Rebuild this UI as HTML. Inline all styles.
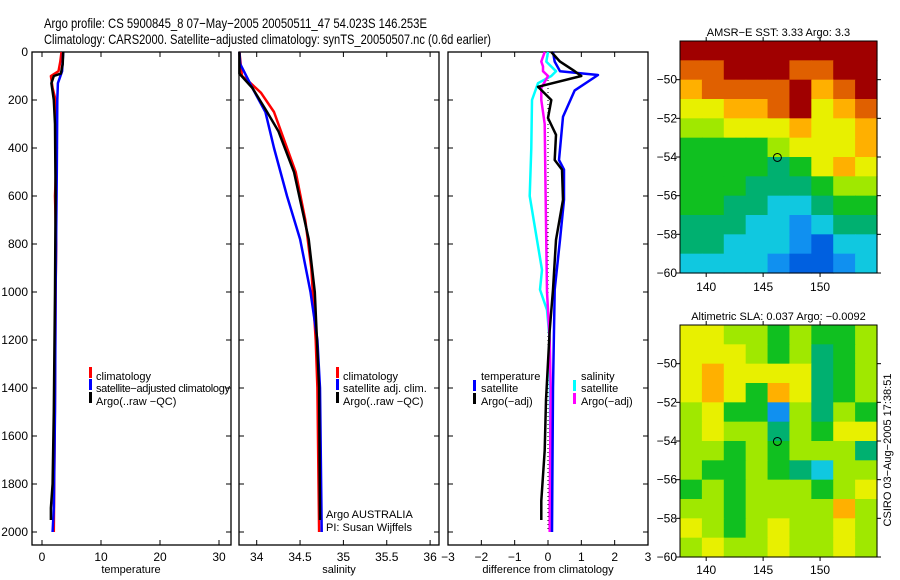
<!DOCTYPE html>
<html><head><meta charset="utf-8">
<style>
html,body{margin:0;padding:0;background:#fff;}
svg{display:block;font-family:"Liberation Sans",sans-serif;}
</style></head>
<body>
<svg id="fig" width="900" height="580" viewBox="0 0 900 580" xmlns="http://www.w3.org/2000/svg">
<text x="44" y="28" font-size="14" textLength="383" lengthAdjust="spacingAndGlyphs">Argo profile: CS 5900845_8 07−May−2005 20050511_47 54.023S 146.253E</text>
<text x="44" y="44" font-size="14" textLength="447" lengthAdjust="spacingAndGlyphs">Climatology: CARS2000. Satellite−adjusted climatology: synTS_20050507.nc (0.6d earlier)</text>
</svg>
<script>
// ---------- data ----------
const depthTicks = [0,200,400,600,800,1000,1200,1400,1600,1800,2000];
const tempTicks = [0,10,20,30];
const salTicks = [34,34.5,35,35.5,36];
const salTickLabels = ["34","34.5","35","35.5","36"];
const diffTicks = [-3,-2,-1,0,1,2,3];

const tClimD = [0,40,80,100,150,200,400,600,800,1000,1400,2000];
const tClimV = [3.3,3.1,2.8,1.5,1.8,2.3,2.5,2.2,2.4,2.3,2.2,2.0];
const tArgoD = [0,50,90,100,130,200,300,600,1000,1500,1800,1900,1950];
const tArgoV = [3.6,3.5,3.2,2.0,1.6,2.0,2.2,2.3,2.2,2.0,1.8,1.5,1.5];
const tSatD = [0,80,130,200,500,1000,1500,1900,2000];
const tSatV = [3.6,3.4,2.7,2.6,2.5,2.3,2.2,2.0,1.8];

const sClimD = [0,100,120,170,250,350,500,700,900,1200,1400,2000];
const sClimV = [33.8,33.83,33.9,34.05,34.2,34.3,34.45,34.56,34.63,34.68,34.7,34.72];
const sArgoD = [0,90,150,250,330,500,780,1000,1400,1950];
const sArgoV = [33.8,33.8,33.95,34.12,34.25,34.43,34.6,34.67,34.72,34.73];
const sSatD = [0,50,150,250,400,600,780,1000,1200,1400,2000];
const sSatV = [33.8,33.81,33.95,34.1,34.2,34.35,34.5,34.62,34.7,34.73,34.75];

const dTSatD = [0,40,80,96,160,270,450,490,616,783,990,1400,2000];
const dTSatV = [0.15,0.2,0.36,1.5,0.8,0.45,0.33,0.48,0.48,0.36,0.2,0.15,0.12];
const dTArgoD = [0,40,80,100,145,200,275,345,450,490,616,783,990,1160,1450,1660,1870,1950];
const dTArgoV = [0.1,0.36,0.8,1.0,-0.3,0.1,0.0,0.24,0.2,0.42,0.45,0.24,0.15,0.05,-0.06,-0.1,-0.2,-0.2];
const dSSatD = [0,40,80,100,130,200,400,600,783,908,990,1075,1200,2000];
const dSSatV = [0.0,-0.05,0.24,0.1,-0.3,-0.48,-0.5,-0.55,-0.33,-0.18,-0.24,-0.03,0.05,0.08];
const dSArgoD = [0,40,60,80,100,150,200,300,500,800,1000,1200,1400,1900,2000];
const dSArgoV = [-0.1,-0.2,-0.15,-0.15,0.0,-0.2,-0.2,-0.1,-0.08,-0.05,-0.03,0.05,0.08,0.05,0.05];

const lonTicks = [140,145,150];
const latTicks = [-50,-52,-54,-56,-58,-60];
const sstGrid = [
[10,10,10,10,10,10,10,10,10],
[9,9,10,10,10,9,9,10,10],
[8,9,9,9,9,10,8,9,10],
[7,7,8,8,9,10,7,8,9],
[6,6,7,7,7,8,7,7,8],
[5,5,5,5,6,7,7,7,8],
[5,5,5,5,4,5,7,8,7],
[5,5,5,4,4,4,5,6,6],
[5,5,4,4,3,3,4,5,5],
[4,4,4,3,3,2,3,4,4],
[4,4,3,3,3,2,1,3,3],
[3,3,3,3,2,1,1,2,3]];
const slaGrid = [
[7,7,6,6,5,6,5,5,6],
[7,7,7,6,5,6,4,5,6],
[7,8,7,7,7,7,4,5,6],
[7,8,7,5,8,7,4,5,6],
[6,7,5,5,2,6,4,6,5],
[6,7,6,6,4,6,5,7,7],
[6,6,5,6,5,6,6,6,4],
[6,5,5,6,5,4,3,6,6],
[5,6,5,6,6,6,5,6,7],
[6,6,5,6,6,6,6,8,6],
[7,6,5,6,7,6,6,7,6],
[6,7,6,6,7,6,6,7,6]];
const argoLon = 146.253, argoLat = -54.023;

// ---------- helpers ----------
const NS="http://www.w3.org/2000/svg";
const svg=document.getElementById('fig');
function mk(tag,attrs){const e=document.createElementNS(NS,tag);for(const k in attrs)e.setAttribute(k,attrs[k]);svg.appendChild(e);return e;}
const yD = d => 52 + d*0.24;
const cmap = ["#0030c0","#0060e0","#1090f0","#10c8e0","#00b070","#10c020","#a0e800","#e8f000","#ffb000","#e06000","#a00000"];

function frame(x0,x1,name){
  const r=mk('rect',{x:x0,y:52,width:x1-x0,height:493,fill:'none',stroke:'#000','stroke-width':1.3});
  
  
}
function ticksX(x0,x1,vals,fx,labels,name){
  vals.forEach((v,i)=>{
    const x=fx(v);
    mk('line',{x1:x,y1:52,x2:x,y2:57,stroke:'#000'});
    mk('line',{x1:x,y1:545,x2:x,y2:540,stroke:'#000'});
    const t=mk('text',{x:x,y:561,'font-size':12,'text-anchor':'middle'});
    t.textContent=labels?labels[i]:String(v).replace('-','−');
    
    
  });
}
function ticksY(x0,x1,withLabels){
  depthTicks.forEach(d=>{
    const y=yD(d);
    mk('line',{x1:x0,y1:y,x2:x0+5,y2:y,stroke:'#000'});
    mk('line',{x1:x1,y1:y,x2:x1-5,y2:y,stroke:'#000'});
    if(withLabels){
      const t=mk('text',{x:28,y:y+4,'font-size':12,'text-anchor':'end'});
      t.textContent=d;
      
      
    }
  });
}
function profile(D,V,fx,color,w,name,dash){
  const pts=D.map((d,i)=>fx(V[i]).toFixed(1)+','+yD(d).toFixed(1)).join(' ');
  const p=mk('polyline',{points:pts,fill:'none',stroke:color,'stroke-width':w,'stroke-linejoin':'round'});
  if(dash)p.setAttribute('stroke-dasharray',dash);
  
  
}
function label(x,y,txt,name,size,anchor){
  const t=mk('text',{x:x,y:y,'font-size':size||12,'text-anchor':anchor||'start'});
  t.textContent=txt;
  
  
  return t;
}
function legBar(x,y,color,name){
  const r=mk('rect',{x:x,y:y-9,width:3,height:11,fill:color});
  
  
}

// ---------- panel 1: temperature ----------
const fxT = v => 42 + v*5.9;
frame(32,231,'temperature-panel-frame');
ticksX(32,231,tempTicks,fxT,null,'temperature');
ticksY(32,231,true);
profile(tClimD,tClimV,fxT,'#f00',2.5,'temperature-climatology-line');
profile(tSatD,tSatV,fxT,'#00f',2.5,'temperature-satellite-line');
profile(tArgoD,tArgoV,fxT,'#000',2.5,'temperature-argo-line');
label(131,573,'temperature','temperature-axis-title',11,'middle');
legBar(89,376,'#f00','legend-climatology-swatch'); label(96,380,'climatology','legend-climatology',11);
legBar(89,388,'#00f','legend-satellite-swatch'); label(96,392,'satellite−adjusted climatology','legend-satellite-adjusted',11).setAttribute('textLength','134');
legBar(89,401,'#000','legend-argo-swatch'); label(96,405,'Argo(..raw −QC)','legend-argo',11);

// ---------- panel 2: salinity ----------
const fxS = v => 256.7 + (v-34)*86.7;
frame(239,439,'salinity-panel-frame');
ticksX(239,439,salTicks,fxS,salTickLabels,'salinity');
ticksY(239,439,false);
profile(sClimD,sClimV,fxS,'#f00',2.5,'salinity-climatology-line');
profile(sSatD,sSatV,fxS,'#00f',2.5,'salinity-satellite-line');
profile(sArgoD,sArgoV,fxS,'#000',2.5,'salinity-argo-line');
label(339,573,'salinity','salinity-axis-title',11,'middle');
legBar(336,376,'#f00','legend2-climatology-swatch'); label(343,380,'climatology','legend2-climatology',11);
legBar(336,388,'#00f','legend2-satellite-swatch'); label(343,392,'satellite adj. clim.','legend2-satellite',11);
legBar(336,401,'#000','legend2-argo-swatch'); label(343,405,'Argo(..raw −QC)','legend2-argo',11);
label(326,518,'Argo AUSTRALIA','argo-australia-label',11);
label(326,531,'PI: Susan Wijffels','pi-label',11);

// ---------- panel 3: difference ----------
const fxDf = v => 548 + v*33.33;
frame(448,648,'difference-panel-frame');
ticksX(448,648,diffTicks,fxDf,null,'difference');
ticksY(448,648,false);
const zl=mk('line',{x1:fxDf(0),y1:yD(100),x2:fxDf(0),y2:yD(2000),stroke:'#000','stroke-width':1,'stroke-dasharray':'1,3'});


profile(dSSatD,dSSatV,fxDf,'#0ff',2.5,'salinity-satellite-diff-line');
profile(dSArgoD,dSArgoV,fxDf,'#f0f',2.5,'salinity-argo-diff-line');
profile(dTSatD,dTSatV,fxDf,'#00f',2.5,'temperature-satellite-diff-line');
profile(dTArgoD,dTArgoV,fxDf,'#000',2.5,'temperature-argo-diff-line');
label(548,573,'difference from climatology','difference-axis-title',11,'middle');
label(481,380,'temperature','legend3-temperature-header',11);
legBar(473,389,'#00f','legend3-tsat-swatch'); label(481,392,'satellite','legend3-tsat',11);
legBar(473,402,'#000','legend3-targo-swatch'); label(481,405,'Argo(−adj)','legend3-targo',11);
label(581,380,'salinity','legend3-salinity-header',11);
legBar(573,389,'#0ff','legend3-ssat-swatch'); label(581,392,'satellite','legend3-ssat',11);
legBar(573,402,'#f0f','legend3-sargo-swatch'); label(581,405,'Argo(−adj)','legend3-sargo',11);

// ---------- maps ----------
function drawMap(top,bottom,grid,name,title,lonLabelY){
  const L=680,R=877,lon0=137.7,lon1=155,lat0=-48,lat1=-60;
  const fx=lon=>L+(lon-lon0)/(lon1-lon0)*(R-L);
  const fy=lat=>top+(lat0-lat)/(lat0-lat1)*(bottom-top);
  const rows=grid.length, cols=grid[0].length;
  const dLat=(lat0-lat1)/rows, dLon=(lon1-lon0)/cols;
  for(let r=0;r<rows;r++)for(let c=0;c<cols;c++){
    const x=fx(lon0+c*dLon), y=fy(lat0-r*dLat);
    const w=fx(lon0+(c+1)*dLon)-x, h=fy(lat0-(r+1)*dLat)-y;
    const cell=mk('rect',{x:x.toFixed(2),y:y.toFixed(2),width:(w+0.6).toFixed(2),height:(h+0.6).toFixed(2),fill:cmap[grid[r][c]]});
    
    
  }
  const f=mk('rect',{x:L,y:top,width:R-L,height:bottom-top,fill:'none',stroke:'#000','stroke-width':1});
  
  
  lonTicks.forEach(v=>{
    const x=fx(v);
    mk('line',{x1:x,y1:top,x2:x,y2:top-4,stroke:'#000'});
    mk('line',{x1:x,y1:bottom,x2:x,y2:bottom+4,stroke:'#000'});
    label(x,lonLabelY,String(v),name+'-lon-label',12,'middle');
  });
  latTicks.forEach(v=>{
    const y=fy(v);
    mk('line',{x1:L,y1:y,x2:L-4,y2:y,stroke:'#000'});
    mk('line',{x1:R,y1:y,x2:R+4,y2:y,stroke:'#000'});
    label(L-3,y+4,String(v).replace('-','−'),name+'-lat-label',12,'end');
  });
  const c=mk('circle',{cx:fx(argoLon),cy:fy(argoLat),r:4,fill:'none',stroke:'#000','stroke-width':1});
  
  
  label((L+R)/2,top-5,title,name+'-title',11,'middle');
}
drawMap(41,273,sstGrid,'sst-map','AMSR−E SST: 3.33 Argo: 3.3',291);
drawMap(325,557,slaGrid,'sla-map','Altimetric SLA: 0.037 Argo: −0.0092',574);
const v=label(0,0,'CSIRO 03−Aug−2005 17:38:51','csiro-timestamp',11,'middle');
v.setAttribute('transform','translate(891,450) rotate(-90)');
</script>
</body></html>
